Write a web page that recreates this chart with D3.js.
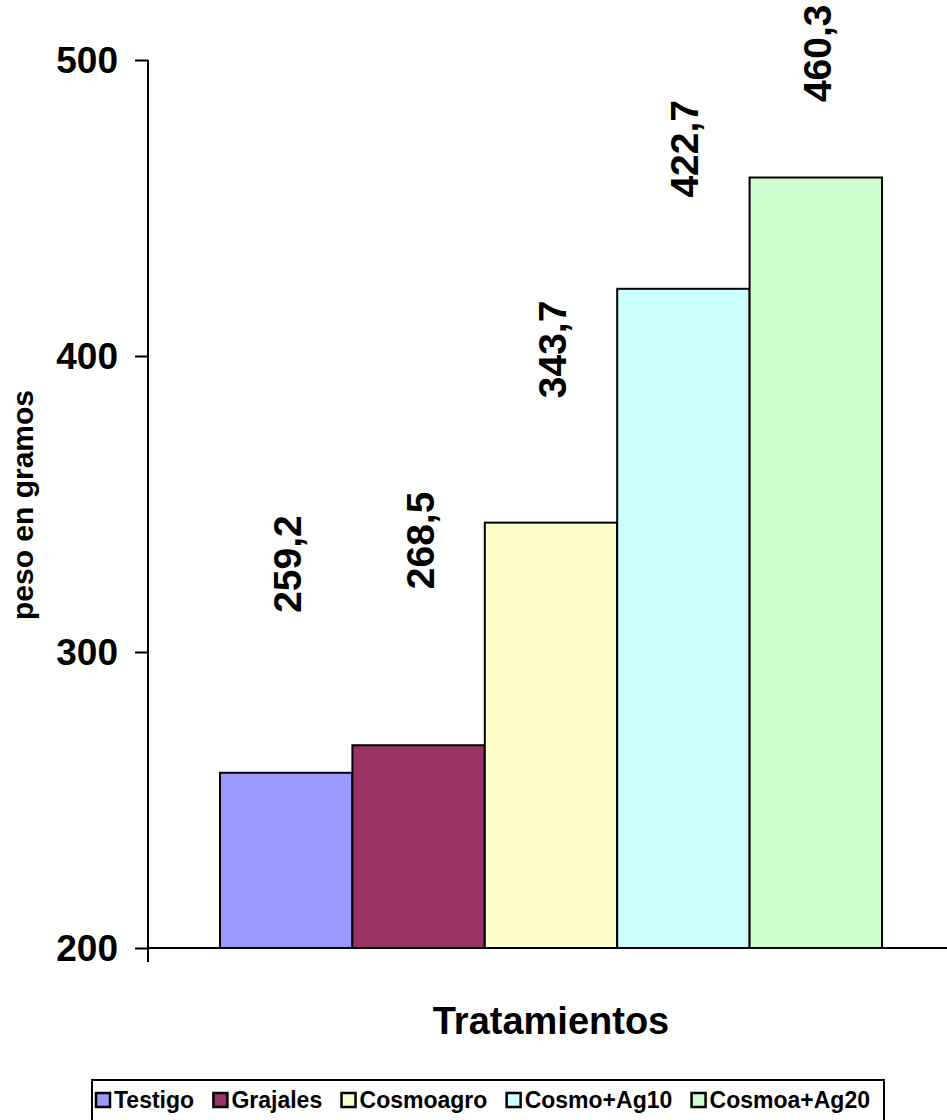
<!DOCTYPE html>
<html><head><meta charset="utf-8">
<script src="https://cdn.jsdelivr.net/npm/d3@7"></script>
<style>html,body{margin:0;padding:0;background:#fff;}svg{display:block;}</style>
</head><body>
<script>
const categories = ["Testigo", "Grajales", "Cosmoagro", "Cosmo+Ag10", "Cosmoa+Ag20"];
const values = [259.2, 268.5, 343.7, 422.7, 460.3];
const valueLabels = ["259,2", "268,5", "343,7", "422,7", "460,3"];
const colors = ["#9999FF", "#993366", "#FFFFCC", "#CCFFFF", "#CCFFCC"];
const yTicks = [200, 300, 400, 500];
const yTitle = "peso en gramos";
const xTitle = "Tratamientos";

const W = 947, H = 1120;
const FONT = "'Liberation Sans', Arial, sans-serif";
const svg = d3.select("body").append("svg").attr("width", W).attr("height", H)
  .style("font-family", FONT);

const y = d3.scaleLinear().domain([200, 500]).range([948, 60]);
const x = d3.scaleBand().domain(categories).range([220, 882]).padding(0);
const axisX = 148;

// bars
svg.selectAll("rect.bar").data(categories).enter().append("rect")
  .attr("class", "bar")
  .attr("x", d => x(d))
  .attr("y", (d, i) => y(values[i]))
  .attr("width", x.bandwidth())
  .attr("height", (d, i) => y(200) - y(values[i]))
  .attr("fill", (d, i) => colors[i])
  .attr("stroke", "#000").attr("stroke-width", 2);

// y axis
const yAxis = d3.axisLeft(y).tickValues(yTicks).tickSize(13).tickPadding(17)
  .tickFormat(d3.format("d"));
const gy = svg.append("g").attr("transform", `translate(${axisX},0)`).call(yAxis);
gy.select(".domain").remove();
gy.selectAll(".tick line").attr("stroke", "#000").attr("stroke-width", 2);
gy.selectAll(".tick text").attr("fill", "#000").style("font-size", "37px")
  .style("font-weight", "bold").style("font-family", FONT).attr("dy", "0.35em");
svg.append("line").attr("x1", axisX).attr("x2", axisX).attr("y1", y(500)).attr("y2", y(200) + 14)
  .attr("stroke", "#000").attr("stroke-width", 2);
// x axis
svg.append("line").attr("x1", axisX).attr("x2", W).attr("y1", y(200)).attr("y2", y(200))
  .attr("stroke", "#000").attr("stroke-width", 2);

// value labels (rotated)
svg.selectAll("text.val").data(categories).enter().append("text")
  .attr("class", "val")
  .attr("transform", (d, i) => {
    const cx = x(d) + x.bandwidth() / 2 + 1;
    const cy = -99 + 0.858 * y(values[i]);
    return `translate(${cx},${cy}) rotate(-90)`;
  })
  .attr("text-anchor", "middle").attr("dy", "0.36em")
  .style("font-size", "39px").style("font-weight", "bold").attr("fill", "#000")
  .text((d, i) => valueLabels[i]);

// axis titles
svg.append("text").attr("transform", "translate(33,505) rotate(-90)")
  .attr("text-anchor", "middle").style("font-size", "30px").style("font-weight", "bold")
  .text(yTitle);
svg.append("text").attr("x", 551).attr("y", 1034).attr("text-anchor", "middle")
  .style("font-size", "38px").style("font-weight", "bold").text(xTitle);

// legend
const boxL = 92, boxR = 884, boxT = 1080;
svg.append("rect").attr("x", boxL).attr("y", boxT).attr("width", boxR - boxL).attr("height", 60)
  .attr("fill", "#fff").attr("stroke", "#000").attr("stroke-width", 2);
const lg = svg.append("g");
const items = lg.selectAll("g.item").data(categories).enter().append("g").attr("class", "item");
items.append("rect").attr("width", 14).attr("height", 14).attr("y", 1093)
  .attr("fill", (d, i) => colors[i]).attr("stroke", "#000").attr("stroke-width", 2.5);
items.append("text").attr("x", 18).attr("y", 1108)
  .style("font-size", "23px").style("font-weight", "bold").text(d => d);
const widths = [];
items.each(function () { widths.push(this.querySelector("text").getComputedTextLength() + 18); });
const startX = boxL + 4, endX = boxR - 14;
const total = d3.sum(widths);
const gap = (endX - startX - total) / (categories.length - 1);
let cur = startX;
items.each(function (d, i) {
  d3.select(this).attr("transform", `translate(${cur},0)`);
  cur += widths[i] + gap;
});
</script>
</body></html>
